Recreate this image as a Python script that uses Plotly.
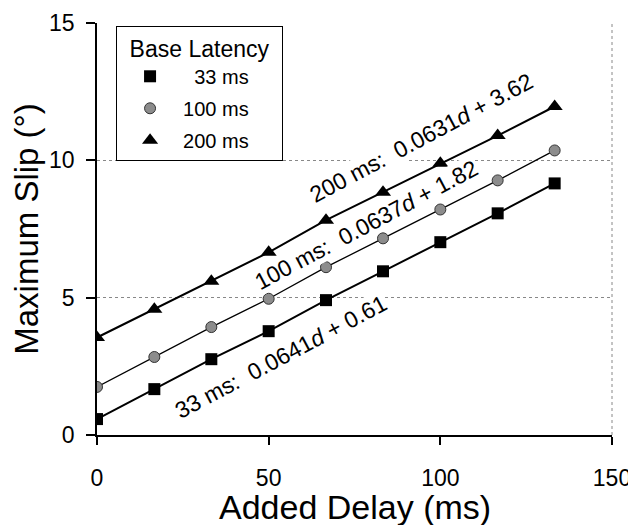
import plotly.graph_objects as go

delay = [0, 16.7, 33.3, 50, 66.7, 83.3, 100, 116.7, 133.3]
slip_33 = [0.58, 1.67, 2.76, 3.78, 4.91, 5.96, 7.02, 8.07, 9.16]
slip_100 = [1.75, 2.84, 3.93, 4.96, 6.11, 7.16, 8.21, 9.27, 10.36]
slip_200 = [3.55, 4.58, 5.60, 6.65, 7.82, 8.84, 9.89, 10.90, 11.96]

PAD = "\u00a0" * 5
series_names = ["\u00a0\u00a033 ms" + PAD, "100 ms" + PAD, "200 ms" + PAD]
fit_labels = ["33 ms:  0.0641<i>d</i> + 0.61",
              "100 ms:  0.0637<i>d</i> + 1.82",
              "200 ms:  0.0631<i>d</i> + 3.62"]
label_x = [53.5, 78.4, 94.4]
label_y = [2.84, 7.64, 10.81]

x_ticks = [0, 50, 100, 150]
y_ticks = [0, 5, 10, 15]
x_title = "Added Delay (ms)"
y_title = "Maximum Slip (°)"

FONT = "Arial, Liberation Sans, sans-serif"

styles = [
    dict(line=dict(color="black", width=2),
         marker=dict(symbol="square", size=12, color="black")),
    dict(line=dict(color="black", width=1.3),
         marker=dict(symbol="circle", size=11, color="#8c8c8c",
                     line=dict(color="#333333", width=1))),
    dict(line=dict(color="black", width=2),
         marker=dict(symbol="triangle-up", size=14, color="black")),
]
series = [slip_33, slip_100, slip_200]

fig = go.Figure()
for name, ys, st in zip(series_names, series, styles):
    fig.add_trace(go.Scatter(
        x=delay, y=ys, name=name.replace("\u00a0", " ").strip(), mode="lines+markers",
        line=st["line"], marker=st["marker"], showlegend=False,
    ))
for i, (name, st) in enumerate(zip(series_names, styles)):
    fig.add_trace(go.Scatter(
        x=[None], y=[None], name=name, mode="markers", legendgroup=str(i),
        marker=st["marker"], showlegend=True,
    ))

for txt, ax, ay in zip(fit_labels, label_x, label_y):
    fig.add_annotation(
        x=ax, y=ay, xref="x", yref="y", text=txt, showarrow=False,
        textangle=-28, font=dict(family=FONT, size=23, color="black"),
        bgcolor="white", borderpad=0, xanchor="center", yanchor="middle",
    )

# x-axis title as annotation (fine placement)
fig.add_annotation(
    x=0.5, y=0, xref="paper", yref="paper", text=x_title, showarrow=False,
    xanchor="center", yanchor="middle", yshift=-72,
    font=dict(family=FONT, size=34, color="black"),
)

fig.add_shape(type="line", xref="paper", yref="paper", x0=1, x1=1, y0=0, y1=1,
              line=dict(color="#888888", width=1, dash="dot"))

fig.update_layout(
    width=636, height=525,
    margin=dict(l=89, r=32, t=15, b=98, autoexpand=False),
    paper_bgcolor="white", plot_bgcolor="white",
    font=dict(family=FONT, color="black"),
    showlegend=True,
    legend=dict(
        x=0.037, y=0.993, xanchor="left", yanchor="top",
        bgcolor="white", bordercolor="black", borderwidth=1,
        font=dict(family=FONT, size=20, color="black"),
        title=dict(text="Base Latency", side="top center",
                   font=dict(family=FONT, size=23, color="black")),
        tracegroupgap=3, itemwidth=56,
    ),
    xaxis=dict(
        range=[0, 150], tickvals=x_ticks, ticktext=[str(v) for v in x_ticks],
        showgrid=False, zeroline=False, automargin=False,
        showline=True, linecolor="black", linewidth=1.5,
        ticks="outside", ticklen=8, tickcolor="black", tickwidth=1.5,
        ticklabelstandoff=14,
        tickfont=dict(family=FONT, size=23, color="black"),
    ),
    yaxis=dict(
        range=[0, 15], tickvals=y_ticks, ticktext=[str(v) for v in y_ticks],
        showgrid=True, gridcolor="#888888", griddash="dot", gridwidth=1,
        zeroline=False, automargin=False,
        showline=True, linecolor="black", linewidth=1.5,
        ticks="outside", ticklen=9, tickcolor="black", tickwidth=1.5,
        ticklabelstandoff=7,
        tickfont=dict(family=FONT, size=23, color="black"),
        title=dict(text=y_title, font=dict(family=FONT, size=33, color="black"),
                   standoff=2),
    ),
)

fig.write_html("out.html")
